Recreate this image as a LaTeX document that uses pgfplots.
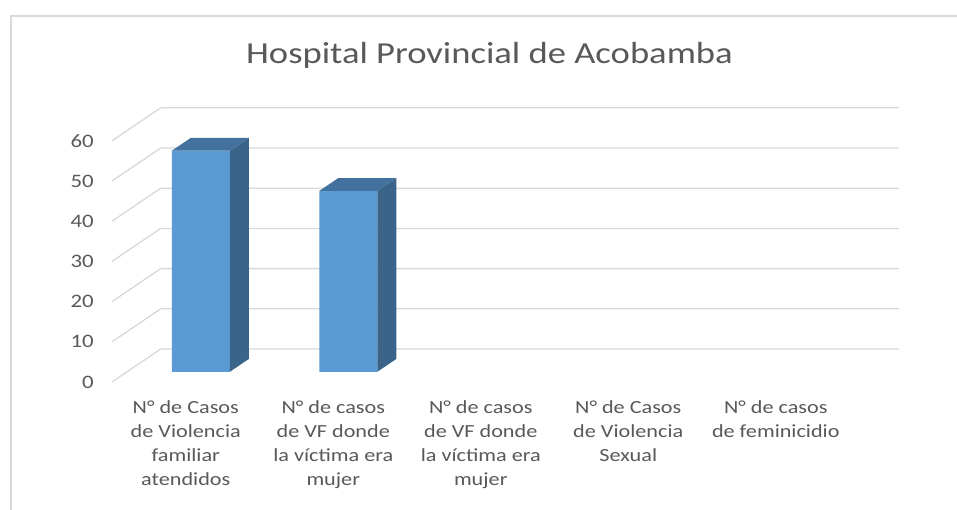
\documentclass[border=0pt]{standalone}
\usepackage{pgfplots}
\pgfplotsset{compat=1.18}
\usepackage{fontspec}
\setmainfont{Carlito}[FakeStretch=1.2]
\definecolor{txt}{HTML}{595959}
\definecolor{gridc}{HTML}{D9D9D9}
\definecolor{front}{HTML}{5B9BD5}
\definecolor{side}{HTML}{3A6489}
\definecolor{topf}{HTML}{41719C}
\pgfplotsset{wall/.style={draw=gridc, line width=1.3pt, no marks}}
\begin{document}
\begin{tikzpicture}[x=1pt,y=1pt]
\useasboundingbox (0,0) rectangle (957,510);
\fill[white] (0,0) rectangle (957,510);
\draw[draw=gridc, line width=2.3pt] (10.7,0) -- (10.7,494) -- (957,494);
\node[anchor=base, text=txt, font=\fontsize{30.5}{36}\selectfont, inner sep=0] at (489.5,446.7) {Hospital Provincial de Acobamba};
% walls and grid
\begin{axis}[
  at={(112pt,128pt)}, anchor=south west,
  x=147.5pt, y=4.02pt,
  xmin=-0.5, xmax=4.835, ymin=0, ymax=60,
  enlargelimits=false, clip=false,
  axis line style={draw=none}, major tick length=0pt,
  ytick={0,10,20,30,40,50,60},
  xtick={0,1,2,3,4},
  xticklabels={{N° de Casos\\de Violencia\\familiar\\atendidos},
               {N° de casos\\de VF donde\\la víctima era\\mujer},
               {N° de casos\\de VF donde\\la víctima era\\mujer},
               {N° de Casos\\de Violencia\\Sexual},
               {N° de casos\\de feminicidio}},
  xticklabel style={align=center, anchor=north, inner sep=0pt, yshift=-18pt, text=txt, font=\fontsize{18.5}{24}\selectfont},
  yticklabel style={anchor=east, inner sep=0pt, xshift=-18pt, text=txt, font=\fontsize{19}{22}\selectfont},
  /pgf/number format/assume math mode=true,
]
\addplot[wall] coordinates {(-0.5,0) (-0.17,8.2) (4.835,8.2)};
\addplot[wall] coordinates {(-0.5,10) (-0.17,18.2) (4.835,18.2)};
\addplot[wall] coordinates {(-0.5,20) (-0.17,28.2) (4.835,28.2)};
\addplot[wall] coordinates {(-0.5,30) (-0.17,38.2) (4.835,38.2)};
\addplot[wall] coordinates {(-0.5,40) (-0.17,48.2) (4.835,48.2)};
\addplot[wall] coordinates {(-0.5,50) (-0.17,58.2) (4.835,58.2)};
\addplot[wall] coordinates {(-0.5,60) (-0.17,68.2) (4.835,68.2)};
\end{axis}
% bars
\begin{axis}[
  at={(127.1pt,138.2pt)}, anchor=south west,
  x=147.5pt, y=4.02pt,
  xmin=-0.5, xmax=4.835, ymin=0, ymax=60,
  enlargelimits=false, clip=false, hide axis,
]
\addplot[ybar, bar width=58pt, bar shift=0pt, fill=front, draw=none] coordinates {(0,55) (1,45)};
\addplot[fill=side, draw=none, no marks] coordinates {(0.1966,0) (0.3254,3.2) (0.3254,58.2) (0.1966,55)} -- cycle;
\addplot[fill=topf, draw=none, no marks] coordinates {(-0.1966,55) (0.1966,55) (0.3254,58.2) (-0.0678,58.2)} -- cycle;
\addplot[fill=side, draw=none, no marks] coordinates {(1.1966,0) (1.3254,3.2) (1.3254,48.2) (1.1966,45)} -- cycle;
\addplot[fill=topf, draw=none, no marks] coordinates {(0.8034,45) (1.1966,45) (1.3254,48.2) (0.9322,48.2)} -- cycle;
\end{axis}
\end{tikzpicture}
\end{document}
